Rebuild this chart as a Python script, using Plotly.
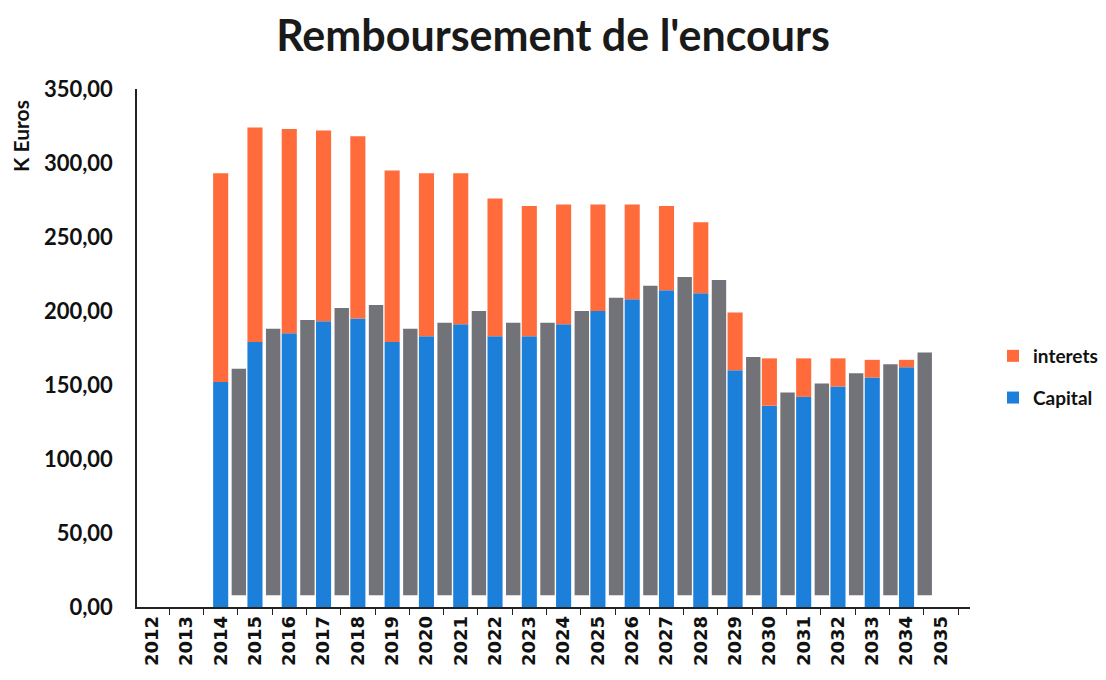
import plotly.graph_objects as go

years = [str(y) for y in range(2012, 2036)]
capital = [None, None, 152, 179, 185, 193, 195, 179, 183, 191, 183, 183, 191, 200,
           208, 214, 212, 160, 136, 142, 149, 155, 162, None]
totals = [None, None, 293, 324, 323, 322, 318, 295, 293, 293, 276, 271, 272, 272,
          272, 271, 260, 199, 168, 168, 168, 167, 167, None]
interets = [None if t is None else round(t - c, 1) for t, c in zip(totals, capital)]
# 3D depth shadow height drawn to the right of each bar
shadow = [None, None, 153, 180, 186, 194, 196, 180, 184, 192, 184, 184, 192, 201,
          209, 215, 213, 161, 137, 143, 150, 156, 164, None]

BLUE = "#1c80da"
ORANGE = "#ff6b3b"
GREY = "#727279"

fig = go.Figure()

fig.add_trace(go.Bar(
    x=years, y=shadow, base=8, width=0.42, offset=0.32,
    marker=dict(color=GREY, line=dict(width=0)),
    showlegend=False, hoverinfo="skip"))

fig.add_trace(go.Bar(
    x=years, y=capital, name="<b>Capital</b>", width=0.44, offset=-0.22,
    legendgroup="c", legendrank=2,
    marker=dict(color=BLUE, line=dict(width=0))))

fig.add_trace(go.Bar(
    x=years, y=interets, base=capital, name="<b>interets</b>", width=0.44, offset=-0.22,
    legendgroup="i", legendrank=1,
    marker=dict(color=ORANGE, line=dict(width=0))))

L, R, T, B = 137, 136, 89, 73
pw = 1106 - L - R
ph = 680 - T - B

yt = [0, 50, 100, 150, 200, 250, 300, 350]

fig.update_layout(
    width=1106, height=680,
    barmode="overlay",
    paper_bgcolor="white", plot_bgcolor="white",
    margin=dict(l=L, r=R, t=T, b=B, autoexpand=False),
    title=dict(text="<b>Remboursement de l'encours</b>", x=0.5, xanchor="center",
               y=1 - 36 / 680, yanchor="middle",
               font=dict(family="Lato", size=43, color="#1a1a1a")),
    font=dict(family="Lato", color="#111111"),
    legend=dict(x=(993 - L) / pw, y=(680 - B - 377) / ph, xanchor="left", yanchor="middle",
                traceorder="grouped", tracegroupgap=14,
                font=dict(family="Lato", size=19, color="#111"),
                itemwidth=30, bgcolor="rgba(0,0,0,0)"),
    xaxis=dict(type="category", range=[-0.44, 23.85], showgrid=False, automargin=False,
               showline=True, linecolor="#222", linewidth=1.5,
               ticks="outside", tickson="boundaries", ticklen=6, tickcolor="#222",
               tickangle=-90, tickvals=years, ticktext=[f"<b>{y}</b>" for y in years],
               tickfont=dict(family="DejaVu Sans", size=18, color="#111"),
               zeroline=False),
    yaxis=dict(range=[0, 350], showgrid=False, automargin=False,
               showline=True, linecolor="#222", linewidth=1.5,
               ticks="", zeroline=False, ticklabelstandoff=18,
               tickvals=yt, ticktext=[f"<b>{v:.2f}</b>".replace(".", ",") for v in yt],
               tickfont=dict(family="Lato", size=22, color="#111")),
    annotations=[dict(text="<b>K Euros</b>", x=(20 - L) / pw, y=(680 - B - 136) / ph,
                      xref="paper", yref="paper", xanchor="center", yanchor="middle",
                      showarrow=False, textangle=-90,
                      font=dict(family="Lato", size=21, color="#111"))],
)

fig.write_html("out.html", config={"displayModeBar": False},
               post_script="document.body.style.margin='0';")
